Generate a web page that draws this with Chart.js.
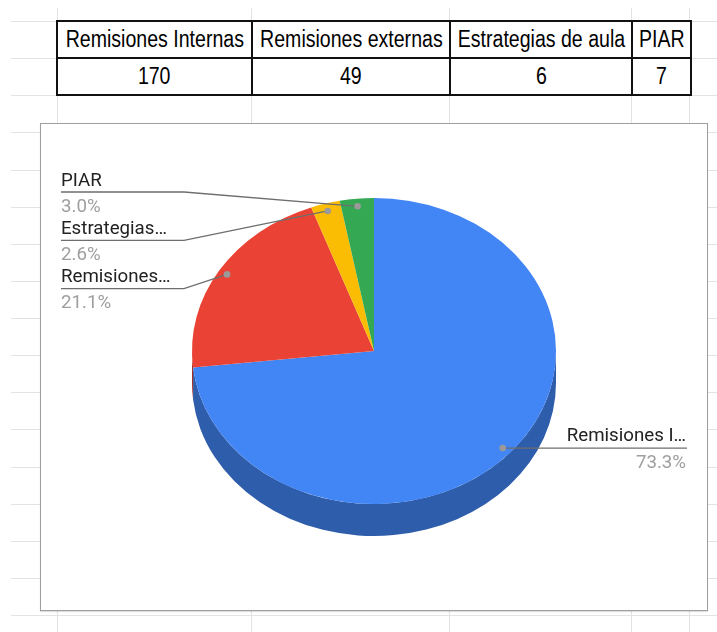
<!DOCTYPE html>
<html>
<head>
<meta charset="utf-8">
<script src="https://cdn.jsdelivr.net/npm/chart.js@4.4.1/dist/chart.umd.min.js"></script>
<style>
  html, body { margin: 0; padding: 0; background: #fff; }
  body { width: 717px; height: 632px; position: relative; overflow: hidden; font-family: "Liberation Sans", Arial, sans-serif; }
  .gh { position: absolute; left: 11px; right: 0; height: 1px; background: #e3e3e3; }
  .gv { position: absolute; top: 8px; bottom: 0; width: 1px; background: #e3e3e3; }
  #tbl { position: absolute; left: 56px; top: 20px; border-collapse: collapse; table-layout: fixed; width: 634px; font-size: 23px; color: #000; background: #fff; }
  #tbl td { border: 2px solid #111; height: 35px; padding: 0; text-align: center; white-space: nowrap; line-height: 35px; }
  #tbl td span { display: inline-block; transform: scaleX(0.85); margin: 0 -30px; }
  #box { position: absolute; left: 40px; top: 123px; width: 666px; height: 486px; border: 1px solid #9e9e9e; background: #fff; box-shadow: 0 1px 1px rgba(0,0,0,0.12); }
  #c { position: absolute; left: 0; top: 0; }
</style>
</head>
<body>
<div id="grid"></div>
<table id="tbl">
  <colgroup id="cols"></colgroup>
  <tr id="hdr"></tr>
  <tr id="vals"></tr>
</table>
<div id="box"><canvas id="c" width="666" height="486"></canvas></div>

<script>
// data
const categories = ['Remisiones Internas', 'Remisiones externas', 'Estrategias de aula', 'PIAR'];
const counts = [170, 49, 6, 7];
// labels as the chart truncates them
const sliceLabels = ['Remisiones I…', 'Remisiones…', 'Estrategias…', 'PIAR'];
const colors = ['#4285f4', '#ea4335', '#fbbc04', '#34a853'];
const sideColors = ['#2e5dab', '#a42f25', '#b08403', '#24763a'];

// sheet grid + table
const colWidths = [195, 198, 182, 59];
const gridX = [57, 251, 449, 631, 689];
const grid = document.getElementById('grid');
for (let i = 0; i < 17; i++) {
  const d = document.createElement('div');
  d.className = 'gh';
  d.style.top = Math.round(21 + i * 37.125) + 'px';
  grid.appendChild(d);
}
gridX.forEach(x => {
  const d = document.createElement('div');
  d.className = 'gv';
  d.style.left = x + 'px';
  grid.appendChild(d);
});
colWidths.forEach(w => {
  const c = document.createElement('col');
  c.style.width = w + 'px';
  document.getElementById('cols').appendChild(c);
});
function cell(row, text) {
  const td = document.createElement('td');
  const sp = document.createElement('span');
  sp.textContent = text;
  td.appendChild(sp);
  document.getElementById(row).appendChild(td);
}
categories.forEach((name, i) => {
  cell('hdr', name);
  cell('vals', counts[i]);
});

// 3d look: squash the pie into an ellipse and paint the rim under it
const TILT = 153 / 182;
const DEPTH = 32;
const pie3d = {
  id: 'pie3d',
  beforeDatasetsDraw(chart) {
    const ctx = chart.ctx;
    const arcs = chart.getDatasetMeta(0).data;
    const cx = arcs[0].x, cy = arcs[0].y, R = arcs[0].outerRadius, ry = R * TILT;
    ctx.save();
    arcs.forEach((arc, i) => {
      const s = Math.max(arc.startAngle, 0);
      const e = Math.min(arc.endAngle, Math.PI);
      if (e <= s) return;
      ctx.beginPath();
      ctx.ellipse(cx, cy, R, ry, 0, s, e, false);
      ctx.ellipse(cx, cy + DEPTH, R, ry, 0, e, s, true);
      ctx.closePath();
      ctx.fillStyle = sideColors[i];
      ctx.fill();
    });
    ctx.translate(cx, cy);
    ctx.scale(1, TILT);
    ctx.translate(-cx, -cy);
  },
  afterDatasetsDraw(chart) {
    chart.ctx.restore();
  }
};

// leader lines + name / percent labels
const LEFT_X = 20, LEFT_LINE_END = 143, LEFT_TOP = 68, LEFT_STEP = 48.3;
const RIGHT_X = 646;
const labelPlugin = {
  id: 'sliceLabels',
  afterDraw(chart) {
    const ctx = chart.ctx;
    const arcs = chart.getDatasetMeta(0).data;
    const total = counts.reduce((a, b) => a + b, 0);
    const left = [], right = [];
    arcs.forEach((arc, i) => {
      const mid = (arc.startAngle + arc.endAngle) / 2;
      const r = arc.outerRadius * 0.95;
      const item = {
        i,
        px: arc.x + Math.cos(mid) * r,
        py: arc.y + Math.sin(mid) * r * TILT,
        pct: (counts[i] / total * 100).toFixed(1) + '%'
      };
      (Math.cos(mid) < 0 ? left : right).push(item);
    });
    left.sort((a, b) => a.py - b.py);

    ctx.save();
    ctx.lineWidth = 1.3;
    ctx.strokeStyle = '#6e6e6e';
    ctx.font = '18.7px Roboto';
    ctx.textBaseline = 'alphabetic';

    left.forEach((it, k) => {
      const ly = LEFT_TOP + k * LEFT_STEP;
      ctx.beginPath();
      ctx.moveTo(LEFT_X, ly);
      ctx.lineTo(LEFT_LINE_END, ly);
      ctx.lineTo(it.px, it.py);
      ctx.stroke();
      ctx.textAlign = 'left';
      ctx.fillStyle = '#222';
      ctx.fillText(sliceLabels[it.i], LEFT_X, ly - 6.5);
      ctx.fillStyle = '#9e9e9e';
      ctx.fillText(it.pct, LEFT_X, ly + 19.5);
    });
    right.forEach(it => {
      const ly = it.py;
      ctx.beginPath();
      ctx.moveTo(it.px, ly);
      ctx.lineTo(RIGHT_X, ly);
      ctx.stroke();
      ctx.textAlign = 'right';
      ctx.fillStyle = '#222';
      ctx.fillText(sliceLabels[it.i], RIGHT_X - 1, ly - 7);
      ctx.fillStyle = '#9e9e9e';
      ctx.fillText(it.pct, RIGHT_X - 1, ly + 19.5);
    });
    [...left, ...right].forEach(it => {
      ctx.beginPath();
      ctx.arc(it.px, it.py, 3.3, 0, Math.PI * 2);
      ctx.fillStyle = '#9a9a9a';
      ctx.fill();
    });
    ctx.restore();
  }
};

new Chart(document.getElementById('c'), {
  type: 'pie',
  data: {
    labels: categories,
    datasets: [{
      data: counts,
      backgroundColor: colors,
      borderWidth: 0,
      hoverOffset: 0,
      offset: 0,
      clip: false
    }]
  },
  options: {
    responsive: false,
    animation: false,
    events: [],
    rotation: 0,
    layout: { padding: { left: 151, right: 151, top: 45, bottom: 77 } },
    plugins: {
      legend: { display: false },
      tooltip: { enabled: false }
    }
  },
  plugins: [pie3d, labelPlugin]
});
</script>
</body>
</html>
